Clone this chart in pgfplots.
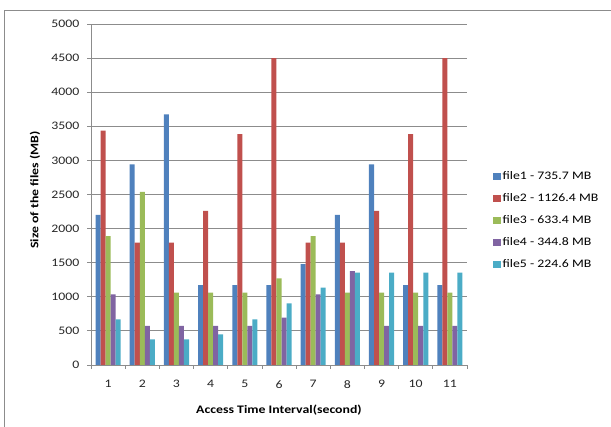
\documentclass[border=0pt]{standalone}
\usepackage{fontspec}
\setmainfont{Carlito}[FakeStretch=1.2]
\usepackage{pgfplots}
\usepackage{pgfplotstable}
\pgfplotsset{compat=1.18}
\definecolor{c1}{HTML}{4F81BD}
\definecolor{c2}{HTML}{C0504D}
\definecolor{c3}{HTML}{9BBB59}
\definecolor{c4}{HTML}{8064A2}
\definecolor{c5}{HTML}{4BACC6}
\definecolor{gridc}{HTML}{8C8C8C}
\pgfplotstableread{
x f1 f2 f3 f4 f5
1 2200 3436 1891 1036 670
2 2940 1794 2537 572 376
3 3675 1794 1060 572 376
4 1170 2258 1060 572 450
5 1170 3387 1060 572 670
6 1170 4500 1271 694 904
7 1480 1794 1891 1036 1134
8 2200 1794 1060 1378 1354
9 2940 2258 1060 572 1354
10 1170 3387 1060 572 1354
11 1170 4500 1060 572 1354
}\datatable
\begin{document}
\begin{tikzpicture}[x=1pt,y=1pt]
\useasboundingbox (0,0) rectangle (611,427);
\draw[gridc, line width=0.8pt] (4,0) -- (4,417) -- (611,417);
\begin{axis}[
  at={(91pt,62pt)}, anchor=south west,
  scale only axis, width=376pt, height=341pt,
  xmin=0.5, xmax=11.5, ymin=0, ymax=5000,
  axis x line*=bottom, axis y line*=left,
  axis line style={draw=gridc, line width=0.8pt, -},
  xtick={1,...,11},
  major x tick style={draw=none},
  minor xtick={0.5,1.5,...,11.5},
  minor x tick style={draw=gridc, line width=0.8pt},
  minor tick length=4pt,
  ytick={0,500,...,5000},
  y tick style={draw=gridc, line width=0.8pt},
  major tick length=4pt,
  tick align=outside,
  ymajorgrids, major grid style={draw=gridc, line width=0.8pt},
  /pgf/number format/assume math mode=true,
  /pgf/number format/set thousands separator={},
  ticklabel style={font=\fontsize{11.5}{13}\selectfont, text=black!85},
  xticklabel style={yshift=-8pt},
  yticklabel style={xshift=-4pt},
  xlabel={\textbf{Access Time Interval(second)}},
  ylabel={\textbf{Size of the files (MB)}},
  xlabel style={font=\fontsize{11.5}{13}\selectfont, at={(axis description cs:0.5,0)}, anchor=center, yshift=-45pt},
  ylabel style={font=\fontsize{11.5}{13}\selectfont, at={(axis description cs:-0.149,0.513)}, anchor=center, rotate=0},
  bar width=0.147,
  legend style={at={(axis description cs:1.061,0.578)}, anchor=north west, draw=none, fill=none,
    font=\fontsize{11.5}{13}\selectfont, row sep=10pt,
    nodes={inner sep=1.5pt, anchor=west, text height=8pt, text depth=1pt}},
  legend cell align=left,
  legend image code/.code={\fill[#1] (0pt,-3.5pt) rectangle (8pt,3.5pt);},
]
\addplot[ybar, fill=c1, draw=none, bar shift=-0.294] table[x=x,y=f1] {\datatable};
\addplot[ybar, fill=c2, draw=none, bar shift=-0.147] table[x=x,y=f2] {\datatable};
\addplot[ybar, fill=c3, draw=none, bar shift=0] table[x=x,y=f3] {\datatable};
\addplot[ybar, fill=c4, draw=none, bar shift=0.147] table[x=x,y=f4] {\datatable};
\addplot[ybar, fill=c5, draw=none, bar shift=0.294] table[x=x,y=f5] {\datatable};
\legend{file1 - 735.7 MB, file2 - 1126.4 MB, file3 - 633.4 MB, file4 - 344.8 MB, file5 - 224.6 MB}
\end{axis}
\end{tikzpicture}
\end{document}
